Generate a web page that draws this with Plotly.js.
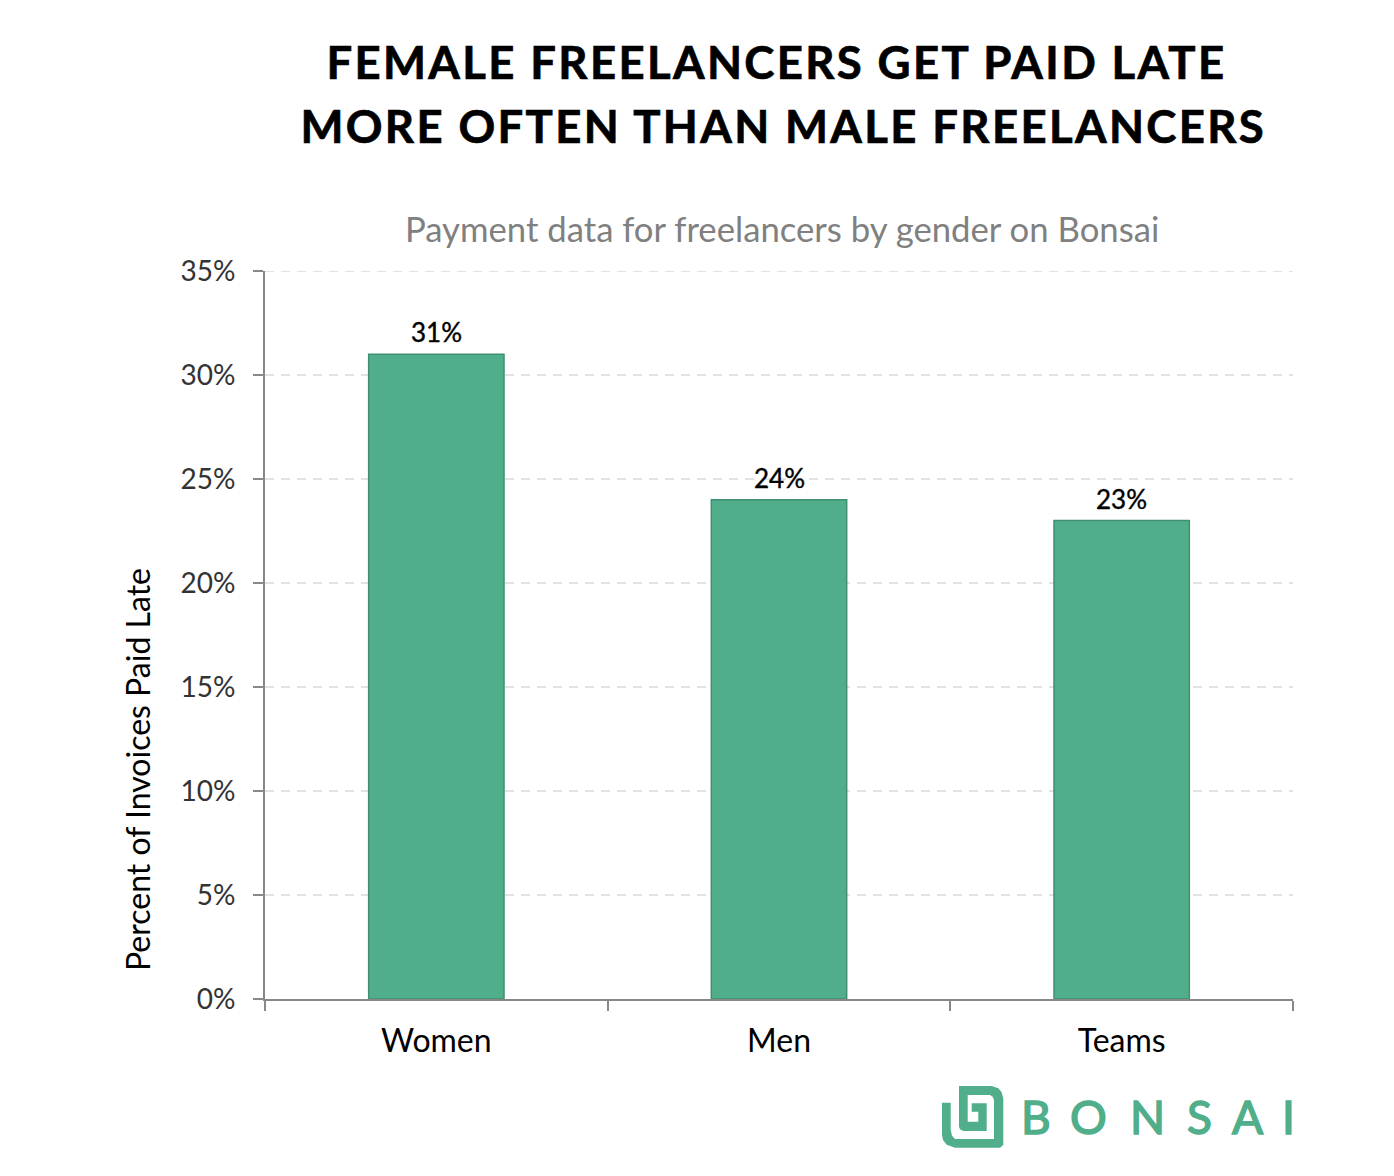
<!DOCTYPE html>
<html><head><meta charset="utf-8">
<script src="https://cdn.plot.ly/plotly-3.0.1.min.js"></script>
<style>html,body{margin:0;padding:0;background:#fff}
.annotation[data-index="0"] text,.annotation[data-index="1"] text{letter-spacing:2.35px;stroke:#000;stroke-width:.7px}
.annotation[data-index="4"] text,.annotation[data-index="5"] text,.annotation[data-index="6"] text,.annotation[data-index="7"] text,.annotation[data-index="8"] text,.annotation[data-index="9"] text{stroke:#50AE8B;stroke-width:1.5px}
.annotation[data-index="10"] text,.annotation[data-index="11"] text,.annotation[data-index="12"] text{stroke:#000;stroke-width:.4px}</style></head>
<body><div id="chart" style="width:1394px;height:1176px"></div>
<script>
const categories = ["Women", "Men", "Teams"];
const values = [31, 24, 23];
const valueLabels = ["31%", "24%", "23%"];
const yTicks = [0, 5, 10, 15, 20, 25, 30, 35];
const yTickLabels = ["0%", "5%", "10%", "15%", "20%", "25%", "30%", "35%"];
const titleLines = ["FEMALE FREELANCERS GET PAID LATE", "MORE OFTEN THAN MALE FREELANCERS"];
const subtitle = "Payment data for freelancers by gender on Bonsai";
const yTitle = "Percent of Invoices Paid Late";
const brandLetters = ["B", "O", "N", "S", "A", "I"];
const brandX = [1036, 1088, 1147, 1199, 1247, 1288];

const W = 1394, H = 1176, L = 265, R = 1293, T = 271, B = 999;
const px = x => (x - L) / (R - L);
const py = y => (B - y) / (B - T);
const green = "#50AE8B";
const font = "Lato, 'Open Sans', sans-serif";
function logoPath(pts) {
  return "M" + pts.map(p => px(p[0]).toFixed(5) + "," + py(p[1]).toFixed(5)).join("L") + "Z";
}
const logoOutline = [[959,1086],[991.7,1086],[998.3,1088.3],[1001.5,1092],[1003.3,1098.3],[1003.3,1145],[1000,1147.7],[955,1147.7],[946.7,1144.7],[943,1140],[942,1135],[942,1102.7],[950.7,1102.7],[950.7,1130],[952,1135.7],[955,1139],[994,1139],[994,1100],[992.7,1096.7],[990,1095],[967.7,1095],[967.7,1121.7],[978.3,1121.7],[978.3,1111.7],[971.7,1111.7],[971.7,1103.3],[986.7,1103.3],[986.7,1131],[963.3,1131],[960,1129.3],[959,1126.7]];
const annos = [
  {text: titleLines[0], x: 776.5, y: 62, size: 45.5, color: "#000", weight: 700},
  {text: titleLines[1], x: 783, y: 125.5, size: 45.5, color: "#000", weight: 700},
  {text: subtitle, x: 781.5, y: 228.5, size: 34.7, color: "#808080", weight: 400}
].map(a => ({
  text: a.text, xref: "paper", yref: "paper", x: px(a.x), y: py(a.y),
  xanchor: "center", yanchor: "middle", showarrow: false,
  font: {family: font, size: a.size, color: a.color, weight: a.weight}
}));
annos.push({
  text: yTitle, xref: "paper", yref: "paper", x: px(137), y: py(770), textangle: -90,
  xanchor: "center", yanchor: "middle", showarrow: false,
  font: {family: font, size: 32, color: "#000"}
});
brandLetters.forEach((c, i) => annos.push({
  text: c, xref: "paper", yref: "paper", x: px(brandX[i]), y: py(1116.5),
  xanchor: "center", yanchor: "middle", showarrow: false,
  font: {family: font, size: 46, color: green, weight: 400}
}));
categories.forEach((c, i) => annos.push({
  text: valueLabels[i], x: c, y: values[i], xref: "x", yref: "y",
  xanchor: "center", yanchor: "bottom", yshift: 4, showarrow: false,
  font: {family: font, size: 26, color: "#000"}
}));
const gridStyle = {color: "#E2E2E2", width: 2, dash: "9px,7px"};
Plotly.newPlot("chart", [{
  type: "bar", x: categories, y: values, width: 0.395,
  marker: {color: green, line: {color: "#3F8F72", width: 1.5}},
  hoverinfo: "skip"
}], {
  width: W, height: H, showlegend: false,
  paper_bgcolor: "#fff", plot_bgcolor: "#fff",
  margin: {l: L, r: W - R, t: T, b: H - B, pad: 0},
  font: {family: font},
  xaxis: {
    type: "category", tickson: "boundaries", ticks: "outside", ticklen: 10, tickwidth: 2, tickcolor: "#888",
    showline: true, linecolor: "#888", linewidth: 2, showgrid: false, zeroline: false,
    ticklabelstandoff: 13,
    tickfont: {family: font, size: 32, color: "#000"}
  },
  yaxis: {
    range: [0, 35], tickmode: "array", tickvals: yTicks, ticktext: yTickLabels,
    ticks: "outside", ticklen: 10, tickwidth: 2, tickcolor: "#888",
    showline: true, linecolor: "#888", linewidth: 2, zeroline: false,
    showgrid: true, gridcolor: gridStyle.color, gridwidth: gridStyle.width, griddash: gridStyle.dash,
    ticklabelstandoff: 12,
    tickfont: {family: font, size: 28, color: "#333"}
  },
  shapes: [
    {type: "line", xref: "paper", yref: "y", x0: 0, x1: 1, y0: yTicks[yTicks.length - 1], y1: yTicks[yTicks.length - 1], layer: "below", line: gridStyle},
    {type: "path", xref: "paper", yref: "paper", path: logoPath(logoOutline), fillcolor: green, line: {width: 0}}
  ],
  annotations: annos
}, {displayModeBar: false});
</script></body></html>
